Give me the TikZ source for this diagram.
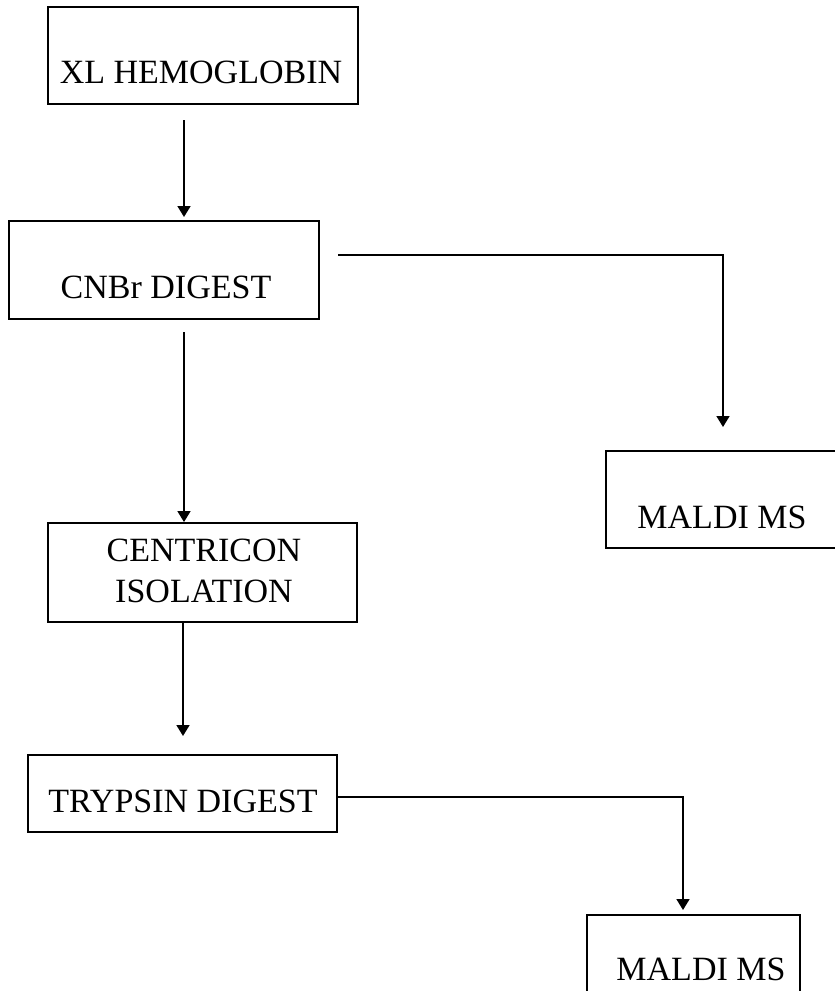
\documentclass[tikz,border=0pt]{standalone}
\usepackage{fontspec}
\setmainfont{Liberation Serif}
\usetikzlibrary{arrows.meta}

\begin{document}
\begin{tikzpicture}[
  x=1pt, y=-1pt,
  box/.style={draw, line width=1.9pt, inner sep=0pt},
  lbl/.style={font=\fontsize{34}{41}\selectfont, align=center, inner sep=0pt, anchor=base},
  flow/.style={line width=1.7pt, -{Triangle[width=13pt,length=11pt]}},
]
% page frame
\useasboundingbox (0,0) rectangle (835,991);
\clip (0,0) rectangle (835,991);

% process boxes
\node[box, minimum width=310pt, minimum height=97pt] (hb)   at (203,55.5)  {};
\node[box, minimum width=310pt, minimum height=98pt] (cnbr) at (164,270)   {};
\node[box, minimum width=260pt, minimum height=97pt] (ms1)  at (736,499.5) {};
\node[box, minimum width=309pt, minimum height=99pt] (cen)  at (202.5,572.5) {};
\node[box, minimum width=309pt, minimum height=77pt] (tryp) at (182.5,793.5) {};
\node[box, minimum width=213pt, minimum height=97pt] (ms2)  at (693.5,963.5) {};

% box labels (base = baseline of the last line)
\node[lbl] (hbT)   at (201,83)  {XL HEMOGLOBIN};
\node[lbl] (cnbrT) at (166,298) {CNBr DIGEST};
\node[lbl] (ms1T)  at (722,528) {MALDI MS};
\node[lbl] (cenT)  at (204,602) {CENTRICON\\ISOLATION};
\node[lbl] (trypT) at (183,812) {TRYPSIN DIGEST};
\node[lbl] (ms2T)  at (701,980) {MALDI MS};

% connector end points
\coordinate (s1) at (184,120);
\coordinate (e1) at (184,217);
\coordinate (s2) at (184,332);
\coordinate (s3) at (183,622);
\coordinate (e3) at (183,736);
\coordinate (s4) at (338,255);
\coordinate (e4) at (723,427);
\coordinate (e5) at (683,910);

% flow
\draw[flow] (s1) -- (e1);
\draw[flow] (s2) -- (s2 |- cen.north);
\draw[flow] (s3) -- (e3);
\draw[flow] (s4) -| (e4);
\draw[flow] (tryp.east |- 0,797) -| (e5);
\end{tikzpicture}
\end{document}
